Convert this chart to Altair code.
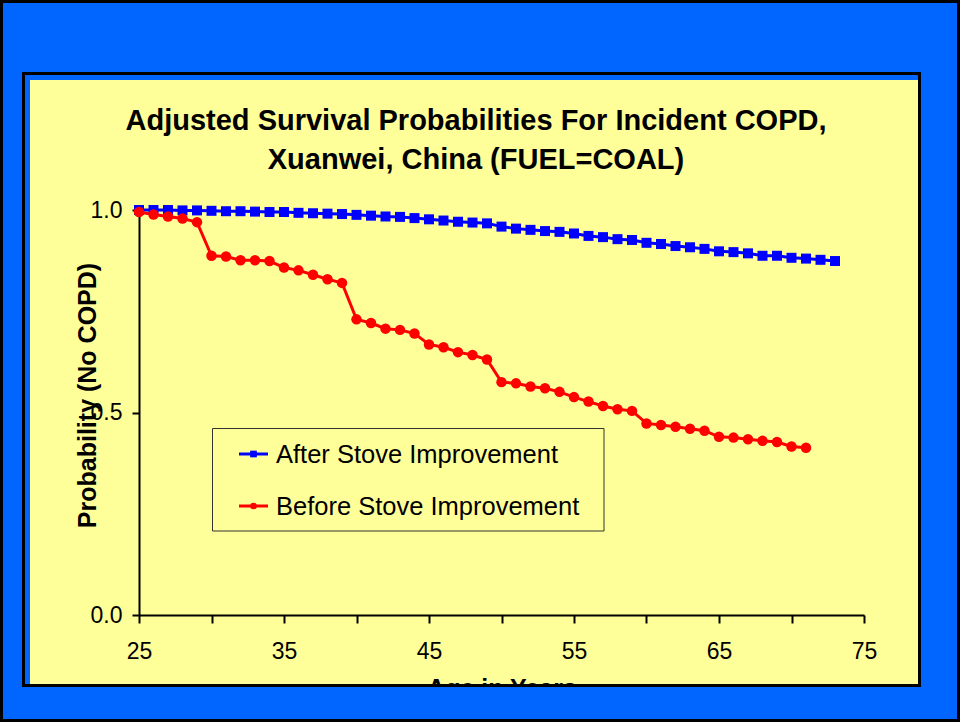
import altair as alt
import pandas as pd

# ---------------- data ----------------
series_names = ["After Stove Improvement", "Before Stove Improvement"]

ages_after = [25, 26, 27, 28, 29, 30, 31, 32, 33, 34, 35, 36, 37, 38, 39, 40, 41, 42, 43, 44,
              45, 46, 47, 48, 49, 50, 51, 52, 53, 54, 55, 56, 57, 58, 59, 60, 61, 62, 63, 64,
              65, 66, 67, 68, 69, 70, 71, 72, 73]
surv_after = [1.000, 1.000, 1.000, 0.999, 0.999,
              0.998, 0.997, 0.997, 0.996, 0.995,
              0.995, 0.993, 0.992, 0.991, 0.990,
              0.988, 0.986, 0.984, 0.983, 0.980,
              0.977, 0.974, 0.971, 0.969, 0.967,
              0.959, 0.954, 0.951, 0.948, 0.946,
              0.942, 0.936, 0.933, 0.928, 0.926,
              0.919, 0.916, 0.911, 0.908, 0.904,
              0.898, 0.896, 0.893, 0.887, 0.887,
              0.882, 0.880, 0.877, 0.874]

ages_before = [25, 26, 27, 28, 29, 30, 31, 32, 33, 34, 35, 36, 37, 38, 39, 40, 41, 42, 43, 44,
               45, 46, 47, 48, 49, 50, 51, 52, 53, 54, 55, 56, 57, 58, 59, 60, 61, 62, 63, 64,
               65, 66, 67, 68, 69, 70, 71]
surv_before = [0.995, 0.989, 0.984, 0.979, 0.970,
               0.887, 0.885, 0.876, 0.876, 0.874,
               0.858, 0.851, 0.840, 0.829, 0.820,
               0.730, 0.721, 0.707, 0.704, 0.695,
               0.668, 0.661, 0.649, 0.642, 0.631,
               0.575, 0.572, 0.564, 0.560, 0.551,
               0.538, 0.527, 0.516, 0.508, 0.504,
               0.473, 0.469, 0.465, 0.460, 0.455,
               0.440, 0.438, 0.434, 0.430, 0.427,
               0.416, 0.413]

x_tick_values = [25, 30, 35, 40, 45, 50, 55, 60, 65, 70, 75]
y_tick_values = [0.0, 0.5, 1.0]

title_lines = ["Adjusted Survival Probabilities For Incident COPD,",
               "Xuanwei, China (FUEL=COAL)"]
x_title = "Age in Years"
y_title = "Probability (No COPD)"

# ---------------- styling ----------------
FONT = "Liberation Sans"
YELLOW = "#FFFF99"
FRAME_BLUE = "#0066FF"
series_colors = ["#0000FF", "#FF0000"]
series_shapes = ["square", "circle"]
series_sizes = [100, 110]
legend_sizes = [45, 45]

W, H = 725, 405

x_enc = alt.X(
    "age:Q",
    scale=alt.Scale(domain=[25, 75], nice=False, zero=False),
    axis=alt.Axis(
        values=x_tick_values,
        labelExpr="datum.value % 10 == 5 ? datum.label : ''",
        title=x_title, grid=False,
        domainColor="black", domainWidth=2,
        tickColor="black", tickWidth=2, tickSize=8,
        labelFont=FONT, labelFontSize=23, labelColor="black",
        labelBaseline="alphabetic", labelPadding=35,
        labelFlush=False, labelOverlap=False,
        titleFont=FONT, titleFontSize=25, titleFontWeight="bold", titleColor="black",
        titleBaseline="alphabetic", titleY=81,
    ),
)
y_enc = alt.Y(
    "surv:Q",
    scale=alt.Scale(domain=[0, 1], nice=False),
    axis=alt.Axis(
        values=y_tick_values, format=".1f",
        title=y_title, grid=False,
        domainColor="black", domainWidth=2,
        tickColor="black", tickWidth=2, tickSize=7,
        labelFont=FONT, labelFontSize=23, labelColor="black", labelPadding=10,
        titleFont=FONT, titleFontSize=25, titleFontWeight="bold", titleColor="black",
        titleAngle=270, titleAlign="center", titleBaseline="alphabetic",
        titleX=-44, titleY=185,
    ),
)

series_data = [
    pd.DataFrame({"age": ages_after, "surv": surv_after, "series": series_names[0]}),
    pd.DataFrame({"age": ages_before, "surv": surv_before, "series": series_names[1]}),
]

layers = []
for i, df in enumerate(series_data):
    base = alt.Chart(df).encode(x=x_enc, y=y_enc)
    layers.append(base.mark_line(color=series_colors[i], strokeWidth=3))
    layers.append(base.mark_point(shape=series_shapes[i], filled=True, opacity=1,
                                  size=series_sizes[i], color=series_colors[i]))

one = pd.DataFrame({"k": [0]})


def rect(x, x2, y, y2, **kw):
    return alt.Chart(one).mark_rect(**kw).encode(
        x=alt.value(x), x2=alt.value(x2), y=alt.value(y), y2=alt.value(y2))


# ---------------- manual legend ----------------
layers.append(rect(73.5, 465, 218.5, 321, filled=False, stroke="#333333", strokeWidth=1))
legend_rows_y = [244, 296]
for i, name in enumerate(series_names):
    ly = legend_rows_y[i]
    layers.append(alt.Chart(one).mark_rule(color=series_colors[i], strokeWidth=3).encode(
        x=alt.value(100), x2=alt.value(129), y=alt.value(ly)))
    layers.append(alt.Chart(one).mark_point(shape=series_shapes[i], filled=True, opacity=1,
                                            size=legend_sizes[i], color=series_colors[i]).encode(
        x=alt.value(114.5), y=alt.value(ly)))
    layers.append(alt.Chart(pd.DataFrame({"label": [name]})).mark_text(
        font=FONT, fontSize=25.5, color="black", align="left", baseline="alphabetic").encode(
        x=alt.value(137), y=alt.value(ly + 8.5), text="label:N"))

# ---------------- slide frame ----------------
layers += [
    rect(-139, 821, -210, -130, color=FRAME_BLUE),   # top band
    rect(-139, 821, 474, 512, color=FRAME_BLUE),     # bottom band
    rect(-139, -109, -210, 512, color=FRAME_BLUE),   # left band
    rect(779, 821, -210, 512, color=FRAME_BLUE),     # right band
    rect(-115.5, 780.5, -136.5, 475.5, filled=False, stroke="black", strokeWidth=3),
    rect(-137.5, 819.5, -208.5, 510.5, filled=False, stroke="black", strokeWidth=3),
]

# ---------------- chart title (two bold lines) ----------------
title_baselines = [-80, -41]
for i, line in enumerate(title_lines):
    layers.append(alt.Chart(pd.DataFrame({"t": [line]})).mark_text(
        font=FONT, fontSize=29, fontWeight="bold", color="black",
        align="center", baseline="alphabetic").encode(
        x=alt.value(337), y=alt.value(title_baselines[i]), text="t:N"))

chart = alt.layer(*layers).properties(
    width=W, height=H,
    padding={"left": 139, "top": 210, "right": 96, "bottom": 107},
    autosize=alt.AutoSizeParams(type="none"),
    background=YELLOW,
).configure_view(strokeWidth=0)

chart.save("out.html", embed_options={"renderer": "svg", "actions": False})
